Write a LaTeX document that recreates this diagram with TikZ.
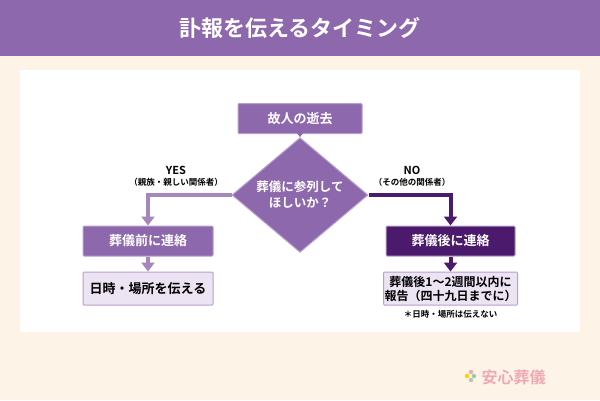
\documentclass[tikz,border=0pt]{standalone}
\usepackage{fontspec}
\usetikzlibrary{shapes.geometric,arrows.meta,positioning}
\newfontfamily\jp{Noto Sans CJK JP Bold}
\definecolor{cream}{HTML}{FDF3E6}
\definecolor{midpurple}{HTML}{8E68AD}
\definecolor{darkpurple}{HTML}{4B1A6C}
\definecolor{lightpurple}{HTML}{EDE4F3}
\definecolor{edgepurple}{HTML}{B79ED0}
\definecolor{logopink}{HTML}{EFA8B4}
\tikzset{
  box/.style={draw=edgepurple, line width=1pt, fill=midpurple, text=white,
    minimum height=30pt, font=\jp\fontsize{13}{15}\selectfont, rounded corners=1pt},
  darkbox/.style={box, fill=darkpurple, draw=edgepurple},
  lightbox/.style={box, fill=lightpurple, draw=edgepurple, text=black},
  flow/.style={line width=4pt, -{Triangle[width=13pt,length=9pt]}},
}
\begin{document}
\begin{tikzpicture}[x=1pt,y=-1pt]
\useasboundingbox (0,0) rectangle (600,400);
\fill[cream] (0,0) rectangle (600,400);
\fill[midpurple] (0,0) rectangle (600,56);
\node[text=white, font=\jp\fontsize{22}{26}\selectfont] (title) at (300,28) {訃報を伝えるタイミング};
\fill[white] (20,70) rectangle (580,332);

% flow
\node[box, minimum width=124pt] (death) at (300,118.5) {故人の逝去};
\node[diamond, draw=edgepurple, line width=1pt, fill=midpurple, text=white,
  minimum width=136pt, minimum height=76pt, inner sep=0pt, align=center,
  font=\jp\fontsize{12.5}{16}\selectfont] (ask) at (300,195) {葬儀に参列して\\ほしいか？};
\node[box, minimum width=130pt] (before) at (148,241) {葬儀前に連絡};
\node[lightbox, minimum width=130pt, minimum height=33pt] (date) at (148,288.5) {日時・場所を伝える};
\node[darkbox, minimum width=129pt] (after) at (450.5,241) {葬儀後に連絡};
\node[lightbox, minimum width=129pt, minimum height=33pt, align=center, inner sep=1pt,
  font=\jp\fontsize{12}{14}\selectfont] (report) at (450.5,288.5) {葬儀後1～2週間以内に\\報告（四十九日までに）};
\node[below=1pt of report, font=\jp\fontsize{8.5}{10}\selectfont] (note) {＊日時・場所は伝えない};

\draw[flow, color=midpurple] (death) -- (ask);
\draw[flow, color=midpurple!80] (ask.west) -| (before.north);
\draw[flow, color=darkpurple] (ask.east) -| (after.north);
\draw[flow, color=midpurple!80] (before) -- (date);
\draw[flow, color=darkpurple] (after) -- (report);

\node[font=\jp\fontsize{11}{12}\selectfont, align=center] (yes) at (176,176) {YES\\[-1pt]{\fontsize{8.5}{10}\selectfont（親族・親しい関係者）}};
\node[font=\jp\fontsize{11}{12}\selectfont, align=center] (no) at (412,176) {NO\\[-1pt]{\fontsize{8.5}{10}\selectfont（その他の関係者）}};

% logo
\foreach \c/\dx/\dy in {logopink/0/-4, yellow!70!orange/-4/0, green!50!black!40/3/0, gray!50/0/4}
  \fill[\c] (471+\dx,376+\dy) circle (2.2pt);
\node[text=logopink, font=\jp\fontsize{16}{18}\selectfont, anchor=west] (logo) at (478,377) {安心葬儀};
\end{tikzpicture}
\end{document}
